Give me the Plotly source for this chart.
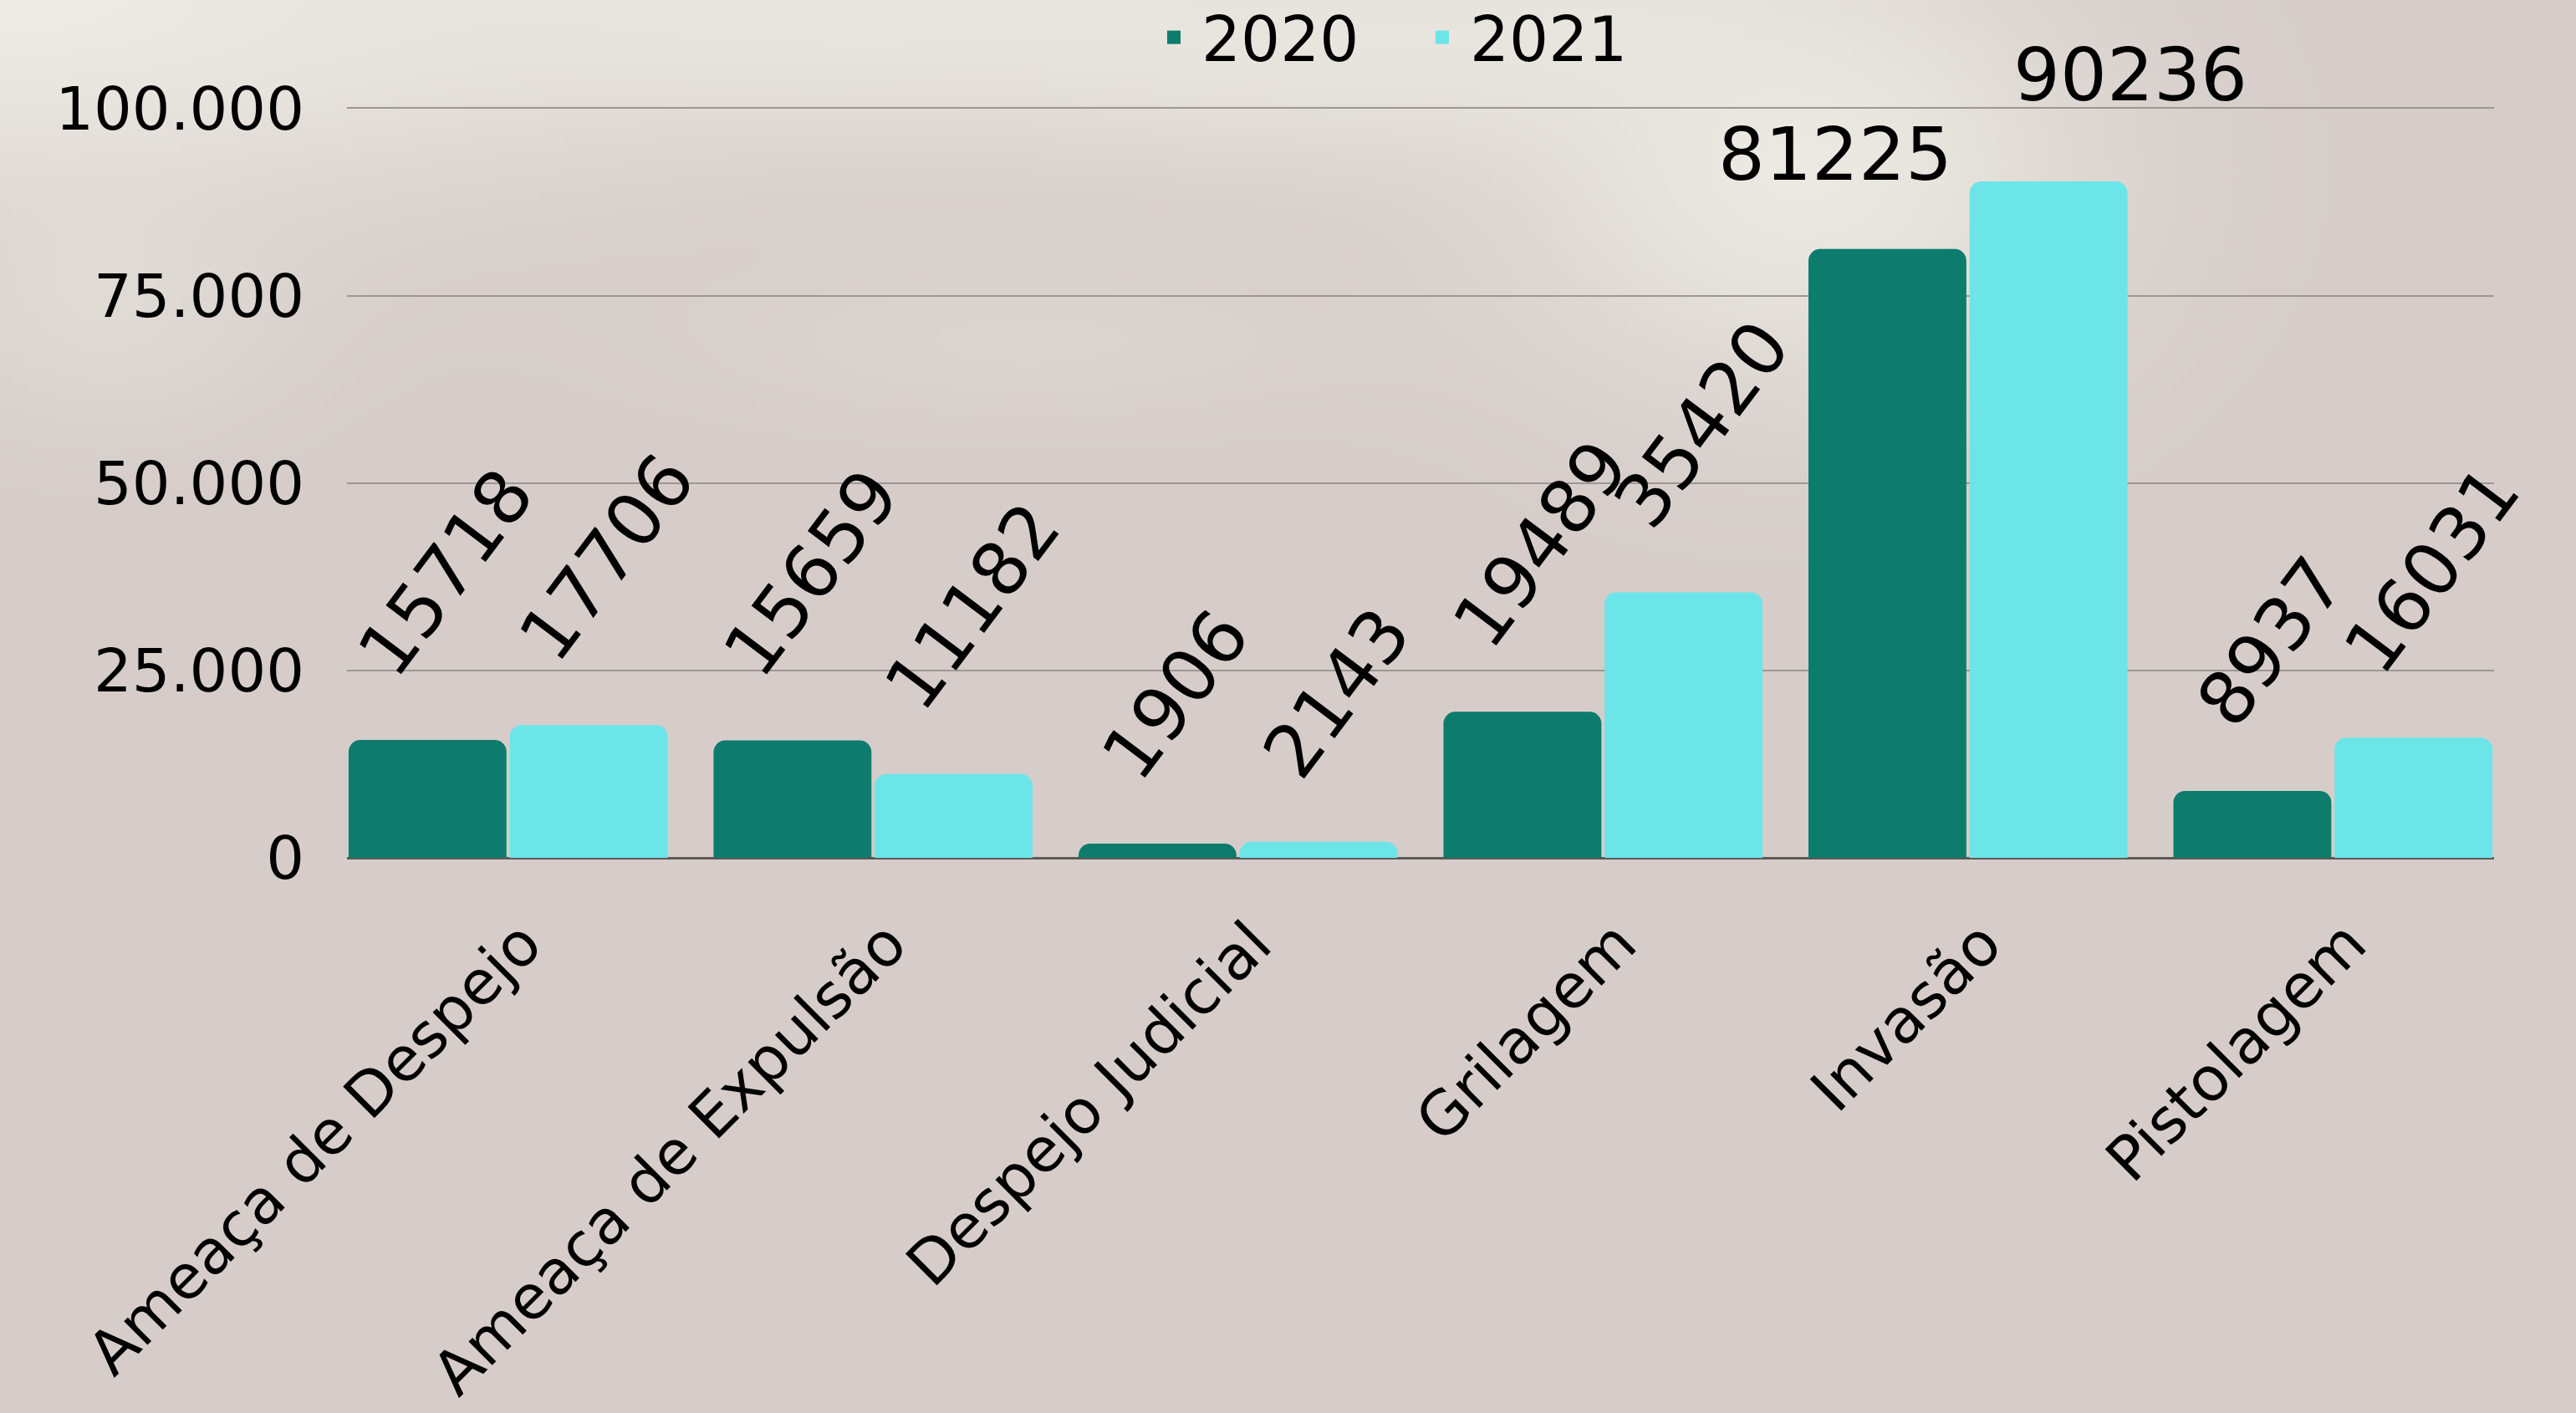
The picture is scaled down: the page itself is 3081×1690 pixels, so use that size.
import base64
import struct
import zlib

import numpy as np
import plotly.graph_objects as go

# ---------------- data ----------------
categories = ["Ameaça de Despejo", "Ameaça de Expulsão", "Despejo Judicial",
              "Grilagem", "Invasão", "Pistolagem"]
series_names = ["2020", "2021"]
values_2020 = [15718, 15659, 1906, 19489, 81225, 8937]
values_2021 = [17706, 11182, 2143, 35420, 90236, 16031]
y_tick_values = [0, 25000, 50000, 75000, 100000]

# ---------------- style ----------------
W, H = 3081, 1690
Y_MAX = 100500
ML, MR, MT, MB = 415, 98, 125, 664
PLOT_W, PLOT_H = W - ML - MR, H - MT - MB
FONT = "DejaVu Sans"
COLORS = {"2020": "#0D7C6C", "2021": "#6CE5E8"}
BARGAP = 0.117
HALF = (1 - BARGAP) / 4          # offset of each bar centre from category centre
ROTATED_ANGLE = -53
HORIZONTAL_CATS = {"Invasão"}
# label fine shifts (px) for horizontal labels
H_SHIFT = {("2020", "Invasão"): (-62, 60), ("2021", "Invasão"): (98, 74)}


# ---------------- blurred photo-like background ----------------
def make_png(arr):
    h, w, _ = arr.shape
    raw = b"".join(b"\x00" + arr[r].tobytes() for r in range(h))

    def chunk(tag, data):
        c = struct.pack(">I", len(data)) + tag + data
        return c + struct.pack(">I", zlib.crc32(tag + data) & 0xFFFFFFFF)

    return (b"\x89PNG\r\n\x1a\n"
            + chunk(b"IHDR", struct.pack(">IIBBBBB", w, h, 8, 2, 0, 0, 0))
            + chunk(b"IDAT", zlib.compress(raw, 9))
            + chunk(b"IEND", b""))


gw, gh = 308, 169
u = np.linspace(0, 1, gw)[None, :]
v = np.linspace(0, 1, gh)[:, None]
blobs = [(0.00, 0.00, 0.18, 0.10, 1.0),
         (0.33, 0.00, 0.15, 0.06, 0.8),
         (0.50, 0.03, 0.09, 0.06, 0.6),
         (0.70, 0.12, 0.08, 0.11, 0.95),
         (0.62, 0.02, 0.07, 0.05, 0.55),
         (0.04, 0.22, 0.05, 0.06, 0.4),
         (0.40, 0.24, 0.09, 0.04, 0.25)]
keep = np.ones((gh, gw))
for cu, cv, su, sv, s in blobs:
    keep *= 1 - s * np.exp(-(((u - cu) / su) ** 2 + ((v - cv) / sv) ** 2) / 2)
t = np.clip(1 - keep, 0, 1)[..., None]
base = np.array([214, 205, 202], float)
light = np.array([237, 235, 228], float)
bg = (base + t * (light - base)).astype(np.uint8)
bg_src = "data:image/png;base64," + base64.b64encode(make_png(bg)).decode()

# ---------------- figure ----------------
fig = go.Figure()
series_values = {"2020": values_2020, "2021": values_2021}
for name in series_names:
    fig.add_trace(go.Bar(
        name=name,
        x=categories,
        y=series_values[name],
        marker=dict(color=COLORS[name], cornerradius=14, line=dict(width=0)),
        hoverinfo="x+y+name",
        showlegend=False,
        legendgroup=name,
    ))
# legend entries with larger square keys (no data drawn)
for name in series_names:
    fig.add_trace(go.Scatter(
        name=name, x=[None], y=[None], mode="markers",
        marker=dict(symbol="square", size=20, color=COLORS[name]),
        legendgroup=name, showlegend=True, hoverinfo="skip",
    ))

annotations = []
for si, name in enumerate(series_names):
    sign = -1 if si == 0 else 1
    for ci, (cat, val) in enumerate(zip(categories, series_values[name])):
        if cat in HORIZONTAL_CATS:
            dx, dy = H_SHIFT[(name, cat)]
            angle = 0
        else:
            dx, dy = 22, 55
            angle = ROTATED_ANGLE
        annotations.append(dict(
            x=ci + sign * HALF, y=val, xref="x", yref="y",
            text=str(val), showarrow=False, textangle=angle,
            xanchor="center", yanchor="bottom", xshift=dx, yshift=dy,
            font=dict(family=FONT, size=88, color="#000000"),
        ))

fig.update_layout(
    width=W, height=H, autosize=False,
    margin=dict(l=ML, r=MR, t=MT, b=MB, pad=0, autoexpand=False),
    paper_bgcolor="rgb(214,205,202)",
    plot_bgcolor="rgba(0,0,0,0)",
    separators=",.",
    barmode="group",
    bargap=BARGAP,
    bargroupgap=0.02,
    font=dict(family=FONT, color="#000000"),
    showlegend=True,
    legend=dict(orientation="h", x=(1371 - ML) / PLOT_W, y=1 + (MT - 45) / PLOT_H,
                xanchor="left", yanchor="middle",
                font=dict(family=FONT, size=74, color="#000000"),
                bgcolor="rgba(0,0,0,0)", itemclick=False,
                itemwidth=56, entrywidth=250, tracegroupgap=0,
                itemsizing="trace"),
    annotations=annotations,
    images=[dict(source=bg_src, xref="paper", yref="paper",
                 x=-ML / PLOT_W, y=1 + MT / PLOT_H,
                 sizex=W / PLOT_W, sizey=H / PLOT_H,
                 xanchor="left", yanchor="top", sizing="stretch",
                 layer="below", opacity=1)],
)

fig.update_xaxes(
    type="category",
    range=[-0.5 + BARGAP / 2, len(categories) - 0.5 - BARGAP / 2],
    tickangle=-45,
    ticks="",
    showgrid=False,
    showline=False,
    zeroline=False,
    tickfont=dict(family=FONT, size=73, color="#000000"),
    ticklabelstandoff=44,
    ticklabelshift=18,
)
fig.update_yaxes(
    range=[0, Y_MAX],
    tickvals=y_tick_values,
    tickformat=",d",
    showgrid=True,
    gridcolor="#9C9792",
    gridwidth=2,
    zeroline=True,
    zerolinecolor="#5E5955",
    zerolinewidth=3,
    showline=False,
    ticks="",
    tickfont=dict(family=FONT, size=72, color="#000000"),
    ticklabelstandoff=50,
)

fig.write_html("out.html", config={"displayModeBar": False},
               post_script="document.body.style.margin='0';")
